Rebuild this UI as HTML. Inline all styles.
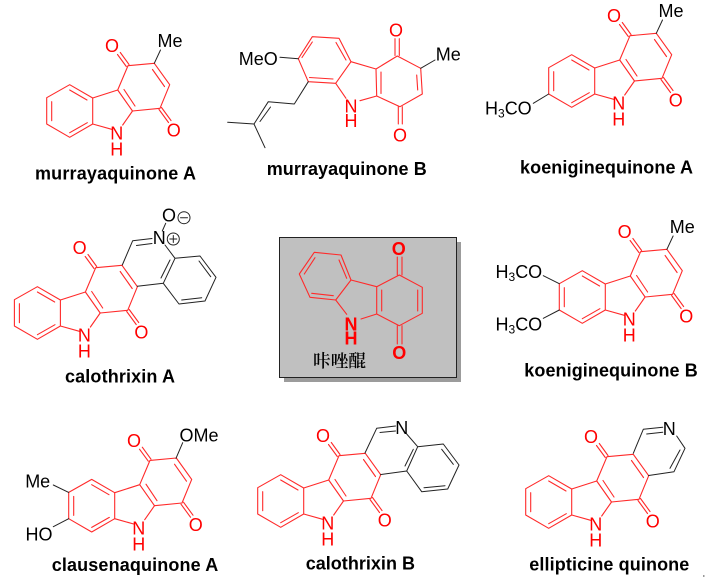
<!DOCTYPE html>
<html><head><meta charset="utf-8"><style>
html,body{margin:0;padding:0;background:#fff}
svg{display:block}
text{font-family:"Liberation Sans",sans-serif;fill:#000}
.a{font-size:18px;text-anchor:middle;transform:translateY(.7px)}
.r{fill:#f00}
.l{font-size:18px;font-weight:bold}
.s{font-size:12px}
.h{font-size:18px}
.red{stroke:#ff2a2a;stroke-width:1.1;fill:none;stroke-linecap:round;stroke-linejoin:round}
.blk{stroke:#222;stroke-width:1;fill:none;stroke-linecap:round;stroke-linejoin:round}
</style></head><body>
<svg width="705" height="584" viewBox="0 0 705 584" xmlns="http://www.w3.org/2000/svg">
<defs>
<g id="core" class="red">
<path d="M46.7 97.7L69.7 84.7L92.7 98V124L69.7 137.3L46.7 124Z"/>
<path d="M51.7 101.7V120.7M69.7 90L87 100M87.3 122.7L69.7 132.7"/>
<path d="M92.7 98L117.7 90L132.5 111L160 108.3L169.7 84.7L154.3 63.3L128 65.7L117.7 90"/>
<path d="M92.7 124L111.7 129.3M132.5 111L122.7 125"/>
<path d="M124 89.5L135 106M152.5 69.5L164.5 86.5"/>
<path d="M129 64.5L120.3 52.5M126.3 66.5L117.5 54.5M161.5 107.5L171 120.5M159 109.5L168.5 122.5"/>
</g>
</defs>

<!-- murrayaquinone A -->
<use href="#core"/>
<path class="blk" d="M154.3 63.3L160.5 50"/>
<text class="a r" x="112" y="51.5">O</text>
<text class="a r" x="173.7" y="135.8">O</text>
<text class="a r" x="116.7" y="139">N</text>
<text class="a r" x="116.7" y="155">H</text>
<text class="a" x="170" y="46.5">Me</text>
<text class="l" x="35" y="179.5" textLength="161">murrayaquinone A</text>

<!-- murrayaquinone B -->
<g class="red">
<path d="M298.3 58.7L312.3 36.7L339 38.3L351 61.7L335.7 83.3L308.3 81.7Z"/>
<path d="M302 57.5L312.3 42M336 42.5L346 60M333 79L309.5 77.5"/>
<path d="M351 61.7L376 69L397.3 56L420.7 68.3L422.3 94L400 106.7L376.7 96L376 69"/>
<path d="M335.7 83.3L346 98.3M376.7 96L360 100.7"/>
<path d="M381 72V93.5M416.7 75L417.7 90"/>
<path d="M395 38.7V55.5M399.3 38.7V55.5M398.3 106.7V124M402.3 106.7V124"/>
</g>
<path class="blk" d="M420.7 68.3L435 60M280 57.3L298.3 58.7M308.3 81.7L294.3 104L268.3 101.7L254 124L227.7 122.3M254 124L265 147.7M270.5 107L260 121.5"/>
<text class="a r" x="396" y="36">O</text>
<text class="a r" x="400" y="140.8">O</text>
<text class="a r" x="351" y="111.8">N</text>
<text class="a r" x="351" y="126.5">H</text>
<text class="a" x="448.3" y="59.8">Me</text>
<text class="a" x="258.3" y="64.1">MeO</text>
<text class="l" x="266.7" y="175" textLength="160">murrayaquinone B</text>

<!-- koeniginequinone A -->
<g transform="translate(502,-30)"><use href="#core"/>
<path class="blk" d="M154.3 63.3L160.5 50M46.7 124L31.3 133.3"/>
<text class="a r" x="112" y="51.5">O</text>
<text class="a r" x="173.7" y="135.8">O</text>
<text class="a r" x="116.7" y="139">N</text>
<text class="a r" x="116.7" y="155">H</text>
<text class="a" x="169" y="46.5">Me</text>
</g>
<text x="485" y="114.5" class="h">H<tspan class="s" dy="3">3</tspan><tspan dy="-3">CO</tspan></text>
<text class="l" x="520" y="173.5" textLength="173">koeniginequinone A</text>

<!-- calothrixin A -->
<g transform="translate(-32.3,202)"><use href="#core"/>
<text class="a r" x="112" y="51.5">O</text>
<text class="a r" x="173.7" y="135.8">O</text>
<text class="a r" x="116.7" y="139">N</text>
<text class="a r" x="116.7" y="155">H</text>
</g>
<path class="blk" d="M122.3 265L132.7 240.7L152 238.5M136.5 245.5L152 243.5M165 245L175 258.3L200 256L216 277.3L205 301L179 304L163.3 283.3L175 258.3M161 278L170 260M199 261L210.7 276.7M201.7 297.7L181.7 300M163.3 283.3L137.3 286.3M165.7 223.3L162.3 231"/>
<text class="a" x="159.3" y="243.5">N</text>
<text class="a" x="169" y="220.8">O</text>
<circle class="blk" cx="184" cy="217.7" r="6"/>
<path class="blk" d="M180.5 217.7H187.5"/>
<circle class="blk" cx="173.3" cy="239" r="6"/>
<path class="blk" d="M169.8 239H176.8M173.3 235.5V242.5"/>
<text class="l" x="65" y="382.3" textLength="110">calothrixin A</text>

<!-- central box -->
<rect x="284" y="242" width="177" height="140" fill="#9c9c9c"/>
<rect x="279.5" y="237.5" width="177" height="140" fill="#c0c0c0" stroke="#222" stroke-width="1"/>
<g class="red">
<path d="M314.3 252.3L341 255L351 280L335.7 300L310 297.3L299.3 274Z"/>
<path d="M315 257.7L304.3 274M339 260L346.7 278.3M311.7 293.3L333.3 295.7"/>
<path d="M351 280L376.7 286.7L399.3 275L422.3 287.3V313.3L399.3 325.7L376.7 314V286.7"/>
<path d="M335.7 300L346.7 314.3M376.7 314L361 319"/>
<path d="M381.7 290V311M417.7 290V311"/>
<path d="M397.3 257V275M402 257V275M397.3 325.7V344M402 325.7V344"/>
</g>
<text class="a r" x="398.7" y="254.2" font-weight="bold">O</text>
<text class="a r" x="399.3" y="358.5" font-weight="bold">O</text>
<text class="a r" x="351" y="330" font-weight="bold">N</text>
<text class="a r" x="351" y="344" font-weight="bold">H</text>
<text x="313" y="367" font-size="17.7" font-weight="600" style="font-family:'Noto Serif CJK SC','Noto Sans CJK SC',serif">咔唑醌</text>

<!-- koeniginequinone B -->
<g transform="translate(512.6,186)"><use href="#core"/>
<path class="blk" d="M154.3 63.3L160.5 50M46.7 97.7L30.7 89.7M46.7 124L30.7 132.3"/>
<text class="a r" x="112" y="51.5">O</text>
<text class="a r" x="173.7" y="135.8">O</text>
<text class="a r" x="116.7" y="139">N</text>
<text class="a r" x="116.7" y="155">H</text>
<text class="a" x="169.7" y="46.5">Me</text>
</g>
<text x="495.5" y="278" class="h">H<tspan class="s" dy="3">3</tspan><tspan dy="-3">CO</tspan></text>
<text x="495.5" y="330.5" class="h">H<tspan class="s" dy="3">3</tspan><tspan dy="-3">CO</tspan></text>
<text class="l" x="524.3" y="376.7" textLength="173.4">koeniginequinone B</text>

<!-- clausenaquinone A -->
<g transform="translate(22,394.7)"><use href="#core"/>
<path class="blk" d="M154 63.6L160.7 48M46.7 97.7L31.3 90.3M46.7 124L31.3 132"/>
<text class="a r" x="112" y="51.5">O</text>
<text class="a r" x="173.7" y="135.8">O</text>
<text class="a r" x="116.7" y="139">N</text>
<text class="a r" x="116.7" y="155">H</text>
</g>
<text class="a" x="37.7" y="486.8">Me</text>
<text class="a" x="199" y="440.8">OMe</text>
<text class="a" x="39" y="539.8">HO</text>
<text class="l" x="51.7" y="571" textLength="166.6">clausenaquinone A</text>

<!-- calothrixin B -->
<g transform="translate(211,390)"><use href="#core"/>
<text class="a r" x="112" y="51.5">O</text>
<text class="a r" x="173.7" y="135.8">O</text>
<text class="a r" x="116.7" y="139">N</text>
<text class="a r" x="116.7" y="155">H</text>
</g>
<path class="blk" d="M365 453L376.7 428.3L395.5 426M380 432.5L395.5 431M406.7 434L417.7 446.7L443.3 444L459 465L447.7 489L421.7 491.7L406.7 471L417.7 446.7M405 466L413.3 449.3M441.7 449.3L453.3 464.3M445 485.7L424 487.7M406.7 471L380.7 474.5"/>
<text class="a" x="401.7" y="433.1">N</text>
<text class="l" x="305.7" y="569.3" textLength="109.3">calothrixin B</text>

<!-- ellipticine quinone -->
<g transform="translate(479,391)"><use href="#core"/>
<text class="a r" x="112" y="51.5">O</text>
<text class="a r" x="173.7" y="135.8">O</text>
<text class="a r" x="116.7" y="139">N</text>
<text class="a r" x="116.7" y="155">H</text>
</g>
<path class="blk" d="M633.3 453.3L643.3 429.3L662.7 427.3M646.7 434L662.7 432.3M676.7 436L685 448.3L674 471.7L648.7 475.5M680 450L670 468.3"/>
<text class="a" x="669.3" y="434.1">N</text>
<text class="l" x="529.3" y="570.7" textLength="160">ellipticine quinone</text>
<rect x="703" y="575" width="1.5" height="2" fill="#999"/>
</svg>
</body></html>
